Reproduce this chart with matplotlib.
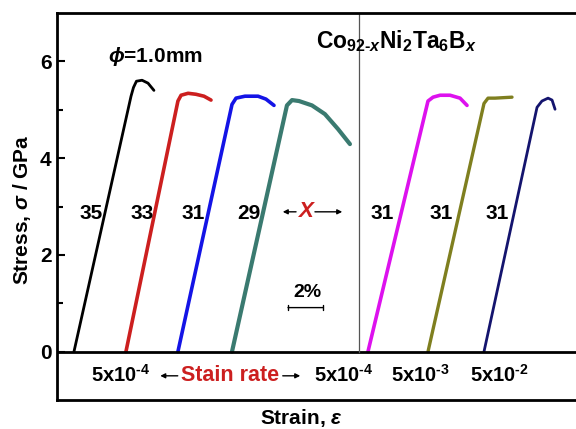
import matplotlib
matplotlib.use("Agg")
import matplotlib.pyplot as plt

plt.rcParams['font.family'] = ['Liberation Sans', 'DejaVu Sans']
plt.rcParams['font.weight'] = 'bold'
plt.rcParams['mathtext.fontset'] = 'custom'
plt.rcParams['mathtext.rm'] = 'Liberation Sans:bold'
plt.rcParams['mathtext.it'] = 'Liberation Sans:bold:italic'
plt.rcParams['mathtext.bf'] = 'Liberation Sans:bold'

# strain (%) offsets shifted per curve, stress in GPa
black_x = [0.97, 4.23, 4.37, 4.54, 4.86, 5.20, 5.54]
black_y = [0.0, 5.28, 5.46, 5.59, 5.61, 5.55, 5.40]
red_x = [3.94, 6.91, 7.09, 7.49, 7.94, 8.40, 8.80]
red_y = [0.0, 5.18, 5.30, 5.34, 5.32, 5.28, 5.20]
blue_x = [6.91, 10.00, 10.23, 10.74, 11.49, 11.94, 12.40]
blue_y = [0.0, 5.11, 5.24, 5.28, 5.28, 5.22, 5.09]
teal_x = [10.00, 13.14, 13.43, 13.83, 14.57, 15.31, 16.06, 16.74]
teal_y = [0.0, 5.09, 5.20, 5.18, 5.09, 4.91, 4.60, 4.29]
mag_x = [17.77, 21.20, 21.49, 21.89, 22.46, 23.03, 23.43]
mag_y = [0.0, 5.18, 5.26, 5.30, 5.30, 5.24, 5.09]
olive_x = [21.20, 24.40, 24.63, 25.03, 26.00]
olive_y = [0.0, 5.13, 5.24, 5.24, 5.26]
navy_x = [24.40, 27.43, 27.71, 28.06, 28.29, 28.46]
navy_y = [0.0, 5.05, 5.18, 5.24, 5.20, 5.01]

curves = [
    (black_x, black_y, 'black', 2.0),
    (red_x, red_y, '#cc1f1f', 2.6),
    (blue_x, blue_y, '#1414e6', 2.6),
    (teal_x, teal_y, '#3a7a70', 3.0),
    (mag_x, mag_y, '#dd11ee', 2.6),
    (olive_x, olive_y, '#7f7f1f', 2.4),
    (navy_x, navy_y, '#14146e', 2.0),
]

# label x positions (strain %) for the B content numbers
content_labels = ['35', '33', '31', '29', '31', '31', '31']
content_pos = [1.94, 4.86, 7.77, 10.97, 18.57, 21.94, 25.14]

rate_labels = [r'5x10$^{\text{-}4}$', r'5x10$^{\text{-}4}$',
               r'5x10$^{\text{-}3}$', r'5x10$^{\text{-}2}$']
rate_pos = [3.66, 16.4, 20.8, 25.26]

fig = plt.figure(figsize=(5.76, 4.29), dpi=100)
ax = fig.add_axes([57 / 576, 29 / 429, 519 / 576, 387 / 429])
ax.set_xlim(0, 519 / 17.5)
ax.set_ylim(-1, 7)

for x, y, c, lw in curves:
    ax.plot(x, y, color=c, lw=lw, solid_capstyle='round', solid_joinstyle='round')

ax.axhline(0, color='black', lw=2)
ax.plot([17.26, 17.26], [0, 7], color='#555555', lw=0.9)

for lab, xp in zip(content_labels, content_pos):
    ax.text(xp, 2.85, lab, fontsize=15, ha='center', va='center')

for lab, xp in zip(rate_labels, rate_pos):
    ax.text(xp, -0.48, lab, fontsize=14.5, ha='center', va='center')

ax.text(5.6, 6.1, r'$\phi$=1.0mm', fontsize=15, ha='center', va='center')
ax.text(19.4, 6.42, r'Co$_{92\text{-}x}$Ni$_2$Ta$_6$B$_x$', fontsize=16.5,
        ha='center', va='center')

# X with arrows
arr = dict(arrowstyle='-|>', lw=1, color='black', mutation_scale=7,
           shrinkA=0, shrinkB=0)
ax.text(14.17, 2.89, 'X', fontsize=16, style='italic', color='#cc1f1f',
        ha='center', va='center')
ax.annotate('', xy=(12.9, 2.89), xytext=(13.66, 2.89), arrowprops=arr)
ax.annotate('', xy=(16.3, 2.89), xytext=(14.74, 2.89), arrowprops=arr)

# stain rate with arrows
ax.text(9.91, -0.5, 'Stain rate', fontsize=15.5, color='#cc1f1f',
        ha='center', va='center')
ax.annotate('', xy=(5.9, -0.5), xytext=(6.9, -0.5), arrowprops=arr)
ax.annotate('', xy=(13.9, -0.5), xytext=(12.9, -0.5), arrowprops=arr)

# 2% scale bar
ax.text(14.3, 1.22, '2%', fontsize=14, ha='center', va='center')
ax.annotate('', xy=(13.2, 0.91), xytext=(15.2, 0.91),
            arrowprops=dict(arrowstyle='|-|, widthA=0.2, widthB=0.2', lw=1,
                            color='black', shrinkA=0, shrinkB=0))

ax.set_yticks([0, 2, 4, 6])
ax.set_yticks([1, 3, 5], minor=True)
ax.set_xticks([])
ax.tick_params(axis='y', which='major', direction='in', length=6, width=1.5,
               labelsize=15, pad=4)
ax.tick_params(axis='y', which='minor', direction='in', length=4, width=1.5)
for s in ['left', 'top', 'bottom']:
    ax.spines[s].set_linewidth(2)
ax.spines['right'].set_visible(False)

fig.text(22 / 576, 1 - 210 / 429, r'Stress, $\sigma$ / GPa', fontsize=15,
         rotation=90, ha='center', va='center')
fig.text(301 / 576, 1 - 418 / 429, r'Strain, $\varepsilon$', fontsize=15,
         ha='center', va='center')

fig.savefig('out.png', dpi=100)
